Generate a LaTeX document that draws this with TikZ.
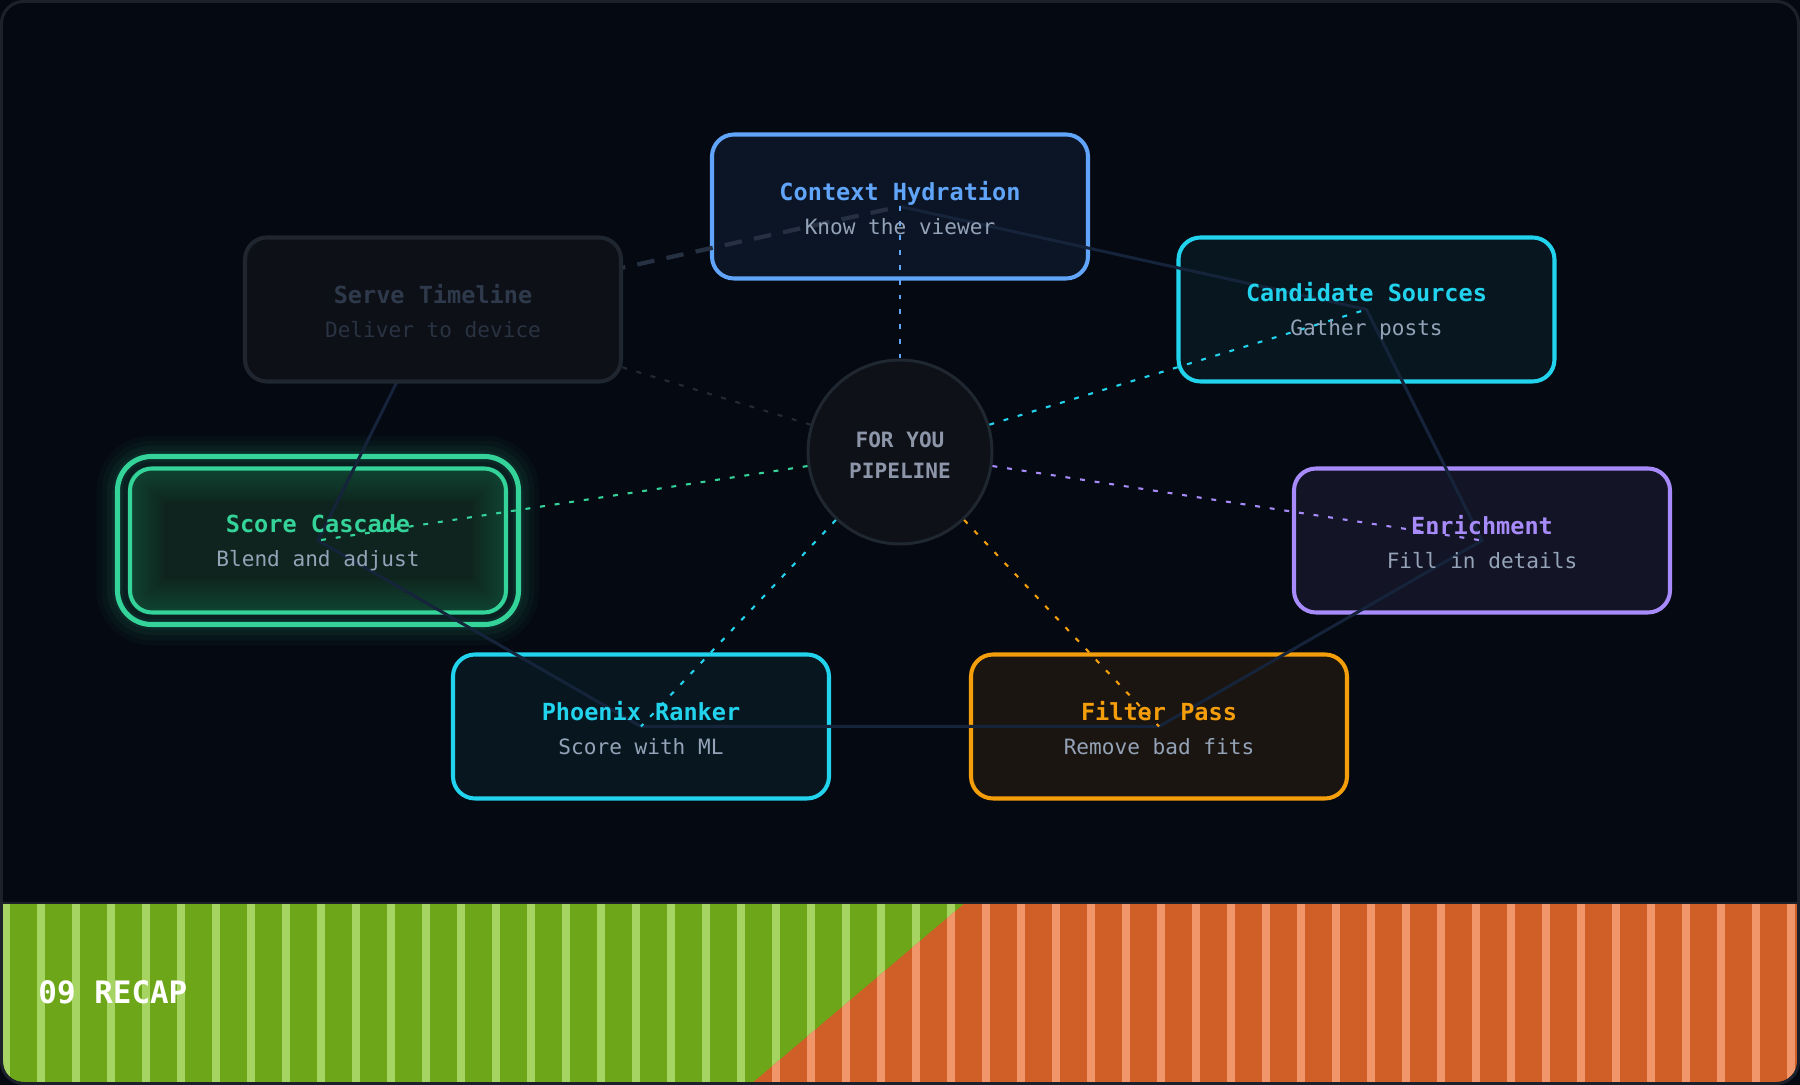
\documentclass[tikz,border=0pt]{standalone}
\usepackage{fontspec}
\setmainfont{DejaVu Sans Mono}
\usetikzlibrary{positioning,calc}
\definecolor{fyBg}{HTML}{050911}
\definecolor{fyFrame}{HTML}{1C212B}
\definecolor{fyRing}{HTML}{15243A}
\definecolor{fyRingDash}{HTML}{253142}
\definecolor{fySub}{HTML}{94A3B8}
\definecolor{fyBlue}{HTML}{60A5FA}
\definecolor{fyBlueBg}{HTML}{0C1526}
\definecolor{fyCyan}{HTML}{22D3EE}
\definecolor{fyCyanBg}{HTML}{08171F}
\definecolor{fyViolet}{HTML}{A78BFA}
\definecolor{fyVioletBg}{HTML}{131425}
\definecolor{fyAmber}{HTML}{F59E0B}
\definecolor{fyAmberBg}{HTML}{1A1510}
\definecolor{fyGreen}{HTML}{34D399}
\definecolor{fyGreenBg}{HTML}{0F241E}
\definecolor{fyServeLine}{HTML}{1F2630}
\definecolor{fyServeBg}{HTML}{0D1017}
\definecolor{fyServeTitle}{HTML}{2E3A4B}
\definecolor{fyServeSub}{HTML}{293342}
\definecolor{fyDim}{HTML}{232B36}
\definecolor{fyHubBg}{HTML}{0E1118}
\definecolor{fyHubLine}{HTML}{1F2731}
\definecolor{fyHubText}{HTML}{8C96A8}
\definecolor{fyLeaf}{HTML}{6DA619}
\definecolor{fyLime}{HTML}{A6D463}
\definecolor{fyRust}{HTML}{D05E27}
\definecolor{fyPeach}{HTML}{F0966A}

\tikzset{
  stagebox/.style={draw=#1, line width=1.15pt, rounded corners=0.22cm,
    minimum width=3.76cm, minimum height=1.44cm},
  stagetext/.style={align=center, text=fySub, yshift=-0.02cm,
    font=\fontsize{6}{9.7}\selectfont},
  spoke/.style={draw=#1, line width=0.6pt, dash pattern=on 1.4pt off 2.8pt},
  ring/.style={draw=fyRing, line width=0.85pt},
  ringdash/.style={draw=fyRingDash, line width=1.2pt, dash pattern=on 5pt off 3.5pt},
  hub/.style={circle, draw=fyHubLine, fill=fyHubBg, line width=0.85pt,
    minimum size=1.84cm},
  hubtext/.style={align=center, text=fyHubText, yshift=-0.035cm,
    font=\fontsize{6}{8.8}\selectfont\bfseries},
  recap/.style={text=white, font=\fontsize{8.8}{10}\selectfont\bfseries}
}
\newcommand{\stagetitle}[2]{{\fontsize{6.7}{9.7}\selectfont\bfseries\color{#1}#2}}

\begin{document}
\begin{tikzpicture}
  \useasboundingbox (0,0) rectangle (18,10.85);
  \fill[fyBg] (0,0) rectangle (18,10.85);
  \begin{scope}
    \clip[rounded corners=0.2cm] (0.03,0.03) rectangle (17.97,10.82);
    \fill[fyLeaf] (0,0) rectangle (18,1.82);
    \foreach \k in {0,...,51}
      \fill[fyLime] ({0.02+0.35*\k},0) rectangle ++(0.08,1.82);
    \clip (9.65,1.82) -- (18,1.82) -- (18,0) -- (7.5,0) -- cycle;
    \fill[fyRust] (0,0) rectangle (18,1.82);
    \foreach \k in {0,...,51}
      \fill[fyPeach] ({0.02+0.35*\k},0) rectangle ++(0.08,1.82);
  \end{scope}
  \draw[fyFrame, line width=0.6pt] (0,1.82) -- (18,1.82);
  \draw[fyFrame, line width=0.85pt, rounded corners=0.22cm] (0.015,0.015) rectangle (17.985,10.835);
  \node[recap, anchor=west] (recap) at (0.26,0.93) {09 RECAP};

  \node[stagebox=fyBlue, fill=fyBlueBg] (ctx) at (9,8.785) {};
  \node[stagebox=fyCyan, fill=fyCyanBg] (cand) at (13.665,7.755) {};
  \node[stagebox=fyViolet, fill=fyVioletBg] (enr) at (14.82,5.445) {};
  \node[stagebox=fyAmber, fill=fyAmberBg] (filt) at (11.59,3.585) {};
  \node[stagebox=fyCyan, fill=fyCyanBg] (phx) at (6.41,3.585) {};
  \coordinate (serveC) at (4.33,7.755);

  \node[minimum width=4.01cm, minimum height=1.68cm, inner sep=0pt, outer sep=0pt] (halo) at (3.18,5.445) {};
  \foreach \w/\o in {12/0.03, 9/0.04, 6/0.05, 3/0.06}
    \draw[fyGreen, line width=\w pt, opacity=\o, rounded corners=0.34cm] (halo.south west) rectangle (halo.north east);
  \draw[fyGreen, line width=1.45pt, rounded corners=0.34cm] (halo.south west) rectangle (halo.north east);
  \node[stagebox=fyGreen, fill=fyGreenBg] (score) at (halo) {};
  \begin{scope}
    \clip[rounded corners=0.22cm] (score.south west) rectangle (score.north east);
    \foreach \w in {2,4,...,20}
      \draw[fyGreen, opacity=0.022, line width=\w pt, rounded corners=0.22cm] (score.south west) rectangle (score.north east);
  \end{scope}

  \node[hub] (hub) at (9,6.33) {};

  \draw[ring] (ctx.center) -- (cand.center) -- (enr.center) -- (filt.center)
    -- (phx.center) -- (score.center) -- (serveC);
  \draw[ringdash] (serveC) -- (ctx.center);
  \draw[spoke=fyBlue] (hub) -- (ctx.center);
  \draw[spoke=fyCyan] (hub) -- (cand.center);
  \draw[spoke=fyViolet] (hub) -- (enr.center);
  \draw[spoke=fyAmber] (hub) -- (filt.center);
  \draw[spoke=fyCyan] (hub) -- (phx.center);
  \draw[spoke=fyGreen] (hub) -- (score.center);
  \draw[spoke=fyDim] (hub) -- (serveC);

  \node[stagebox=fyServeLine, fill=fyServeBg] (serve) at (serveC) {};

  \node[stagetext] (ctxL) at (ctx) {\stagetitle{fyBlue}{Context Hydration}\\Know the viewer};
  \node[stagetext] (candL) at (cand) {\stagetitle{fyCyan}{Candidate Sources}\\Gather posts};
  \node[stagetext] (enrL) at (enr) {\stagetitle{fyViolet}{Enrichment}\\Fill in details};
  \node[stagetext] (filtL) at (filt) {\stagetitle{fyAmber}{Filter Pass}\\Remove bad fits};
  \node[stagetext] (phxL) at (phx) {\stagetitle{fyCyan}{Phoenix Ranker}\\Score with ML};
  \node[stagetext] (scoreL) at (score) {\stagetitle{fyGreen}{Score Cascade}\\Blend and adjust};
  \node[stagetext, text=fyServeSub] (serveL) at (serve) {\stagetitle{fyServeTitle}{Serve Timeline}\\Deliver to device};
  \node[hubtext] (hubL) at (hub) {FOR YOU\\PIPELINE};
\end{tikzpicture}
\end{document}
